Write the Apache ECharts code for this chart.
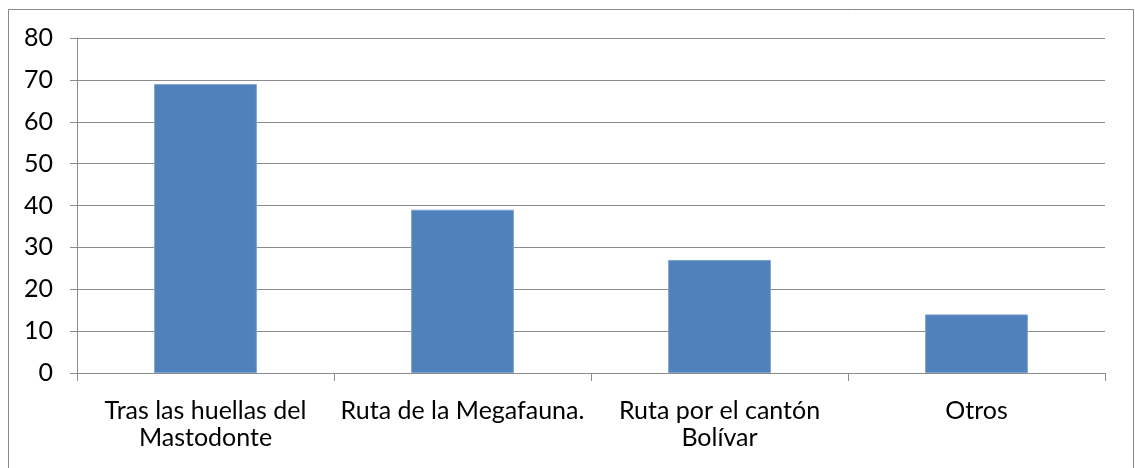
<!DOCTYPE html>
<html>
<head>
<meta charset="utf-8">
<script src="https://cdn.jsdelivr.net/npm/echarts@6/dist/echarts.min.js"></script>
<style>
    html, body { margin: 0; padding: 0; background: #fff; }
    #chart { width: 1135px; height: 468px; }
</style>
</head>
<body>
<div id="chart"></div>
<script>
    // categories and values
    var categories = ['Tras las huellas del\nMastodonte', 'Ruta de la Megafauna.', 'Ruta por el cantón\nBolívar', 'Otros'];
    var values = [69, 39, 27, 14];

    var myChart = echarts.init(document.getElementById('chart'));
    var gridLine = '#8c8c8c';
    var option = {
        animation: false,
        textStyle: { fontFamily: 'Lato, Open Sans, sans-serif' },
        graphic: [{
            type: 'rect',
            shape: { x: 8.5, y: 9.5, width: 1125, height: 470 },
            style: { fill: 'none', stroke: '#8a8a8a', lineWidth: 1 }
        }],
        grid: { left: 77, right: 30, top: 38, bottom: 95 },
        xAxis: {
            type: 'category',
            data: categories,
            axisLine: { lineStyle: { color: gridLine, width: 1 } },
            axisTick: { show: true, length: 8, lineStyle: { color: gridLine } },
            axisLabel: { color: '#000', fontSize: 25, lineHeight: 27, margin: 24, interval: 0 }
        },
        yAxis: {
            type: 'value',
            min: 0,
            max: 80,
            interval: 10,
            axisLine: { show: true, lineStyle: { color: gridLine, width: 1 } },
            axisTick: { show: true, length: 7, lineStyle: { color: gridLine } },
            axisLabel: { color: '#000', fontSize: 25, margin: 24 },
            splitLine: { lineStyle: { color: gridLine, width: 1 } }
        },
        series: [{
            type: 'bar',
            data: values,
            barWidth: '40%',
            itemStyle: { color: '#4F81BD', borderColor: '#7FA3D1', borderWidth: 1 }
        }]
    };
    myChart.setOption(option);
</script>
</body>
</html>
